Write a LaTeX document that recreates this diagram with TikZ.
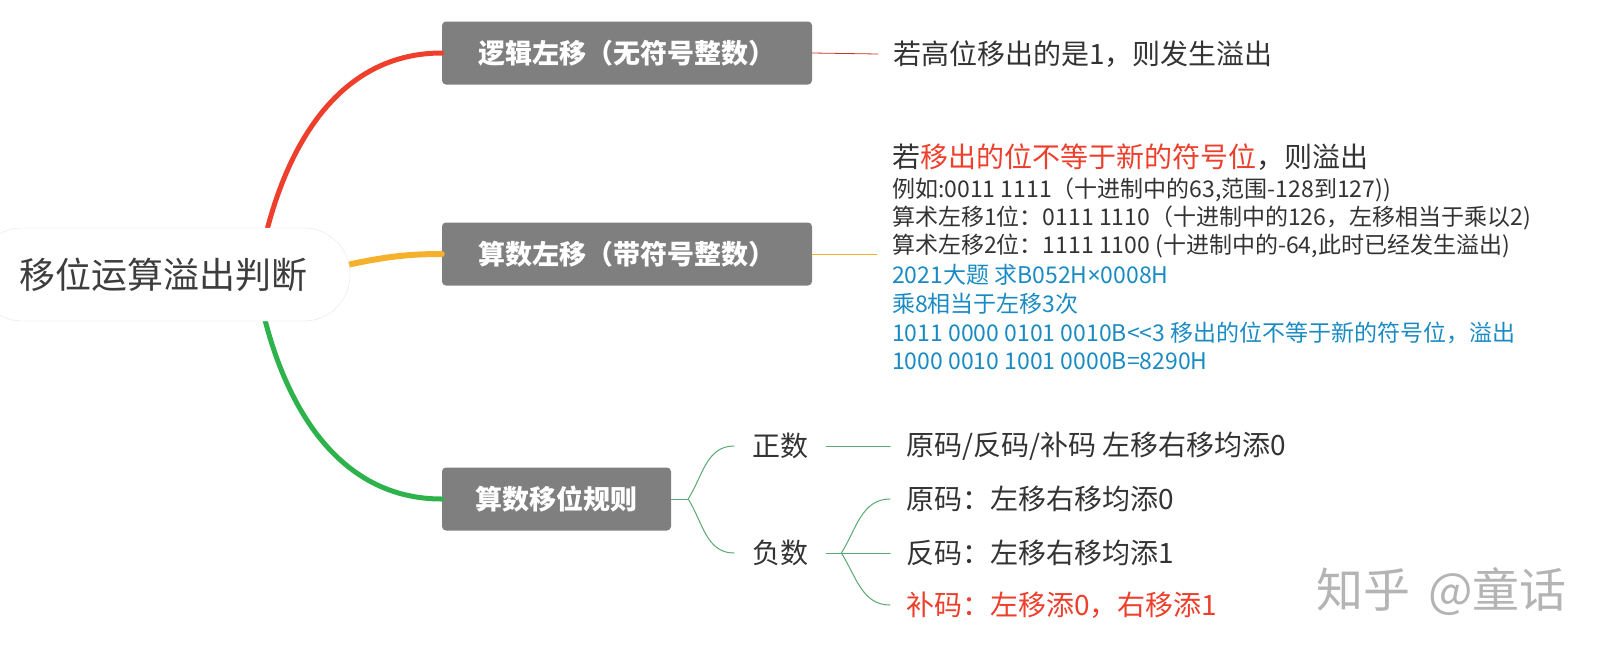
\documentclass[tikz,border=0pt]{standalone}
\usepackage{fontspec}
\setmainfont{Noto Sans CJK SC}
\newfontfamily\latinfont{Noto Sans}
\usetikzlibrary{positioning}

\definecolor{mapred}{HTML}{EE3F2C}
\definecolor{maporange}{HTML}{F5B12B}
\definecolor{mapgreen}{HTML}{2EB24B}
\definecolor{twiggreen}{HTML}{5BA872}
\definecolor{boxgray}{HTML}{7F7F7F}
\definecolor{txt}{HTML}{333333}
\definecolor{noteblue}{HTML}{1A8BC2}
\definecolor{wmgray}{HTML}{B4B4B4}

\newcommand{\fsz}[1]{\fontsize{#1}{#1}\selectfont}

\begin{document}
\begin{tikzpicture}[
  x=1pt, y=-1pt, line cap=round, line join=round,
  root/.style={draw=black!10, fill=white, rounded corners=46pt, minimum height=93pt,
               inner xsep=43pt, text=txt!95, font=\fsz{36}},
  topic/.style={fill=boxgray, rounded corners=4pt, minimum height=63pt,
                text=white, font=\fsz{27}\bfseries},
  leaf/.style={anchor=west, inner xsep=16pt, inner ysep=0pt, text=txt, font=\fsz{28}},
  note/.style={anchor=west, inner xsep=15pt, inner ysep=0pt, text=txt, font=\fsz{23}},
  branch/.style={line width=5pt},
  twig/.style={line width=1pt, twiggreen}
]
  \useasboundingbox (0,0) rectangle (1608,657);

  % ── Topics ────────────────────────────────────────────────────────────────
  \node[topic, minimum width=370pt] (logic) at (627, 53)  {逻辑左移（无符号整数）};
  \node[topic, minimum width=370pt] (arith) at (627, 254) {算数左移（带符号整数）};
  \node[topic, minimum width=229pt] (rule)  at (556.5, 499) {算数移位规则};

  % ── Main branches (drawn below the root) ──────────────────────────────────
  \coordinate (redstart)    at (266, 234);
  \coordinate (orangestart) at (342, 266);
  \coordinate (greenstart)  at (264, 316);
  \draw[branch, mapred]    (redstart)    to[out=76, in=180]  (logic.west);
  \draw[branch, maporange, line width=6pt] (orangestart) to[out=12, in=180] (arith.west);
  \draw[branch, mapgreen]  (greenstart)  to[out=-76, in=180] (rule.west);

  \node[root] (root) at (163, 274.5) {移位运算溢出判断};

  % ── Logic shift ───────────────────────────────────────────────────────────
  \node[leaf, inner xsep=15pt] (unsigned) at (878, 54) {若高位移出的是1，则发生溢出};
  \draw[mapred!85!black, line width=0.8pt] (logic.east) -- (unsigned.west);

  % ── Arithmetic left shift ─────────────────────────────────────────────────
  \node[leaf, inner xsep=15pt] (d1) at (877, 157)
      {若\textcolor{mapred}{移出的位不等于新的符号位}，则溢出};
  \node[note] (d2) at (877, 189.7) {例如:0011 1111（十进制中的63,范围-128到127))};
  \node[note] (d3) at (877, 218.4) {算术左移1位：0111 1110（十进制中的126，左移相当于乘以2)};
  \node[note] (d4) at (877, 246)   {算术左移2位：1111 1100 (十进制中的-64,此时已经发生溢出)};
  \node[note, text=noteblue] (d5) at (877, 274.8) {2021大题 求B052H{\latinfont ×}0008H};
  \node[note, text=noteblue] (d6) at (877, 303.5) {乘8相当于左移3次};
  \node[note, text=noteblue] (d7) at (877, 333.3) {1011 0000 0101 0010B<\kern0pt<3 移出的位不等于新的符号位，溢出};
  \node[note, text=noteblue] (d8) at (877, 361)   {1000 0010 1001 0000B=8290H};
  \draw[maporange, line width=0.8pt] (arith.east) -- (arith.east -| d4.west);

  % ── Shift rules ───────────────────────────────────────────────────────────
  \node[leaf, inner xsep=18pt] (pos) at (734, 446) {正数};
  \node[leaf, inner xsep=18pt] (neg) at (734, 553) {负数};
  \node[leaf] (posall) at (890, 446) {原码/反码/补码 左移右移均添0};
  \node[leaf] (negsm)  at (890, 499) {原码：左移右移均添0};
  \node[leaf] (negoc)  at (890, 553) {反码：左移右移均添1};
  \node[leaf, text=mapred] (negtc) at (890, 605) {补码：左移添0，右移添1};

  \draw[twig] (rule.east) -- ++(17,0) coordinate (rulefork);
  \draw[twig] (rulefork) to[out=58, in=180] (pos.west);
  \draw[twig] (rulefork) to[out=-58, in=180] (neg.west);
  \draw[twig] (pos.east) -- (posall.west);
  \draw[twig] (neg.east) -- ++(15,0) coordinate (negfork);
  \draw[twig] (negfork) to[out=58, in=180] (negsm.west);
  \draw[twig] (negfork) -- (negoc.west);
  \draw[twig] (negfork) to[out=-58, in=180] (negtc.west);

  % watermark
  \node[anchor=west, inner sep=0pt, text=wmgray, font=\fsz{47}] (mark) at (1316, 592)
      {知乎\hspace{18pt}@童话};
\end{tikzpicture}
\end{document}
